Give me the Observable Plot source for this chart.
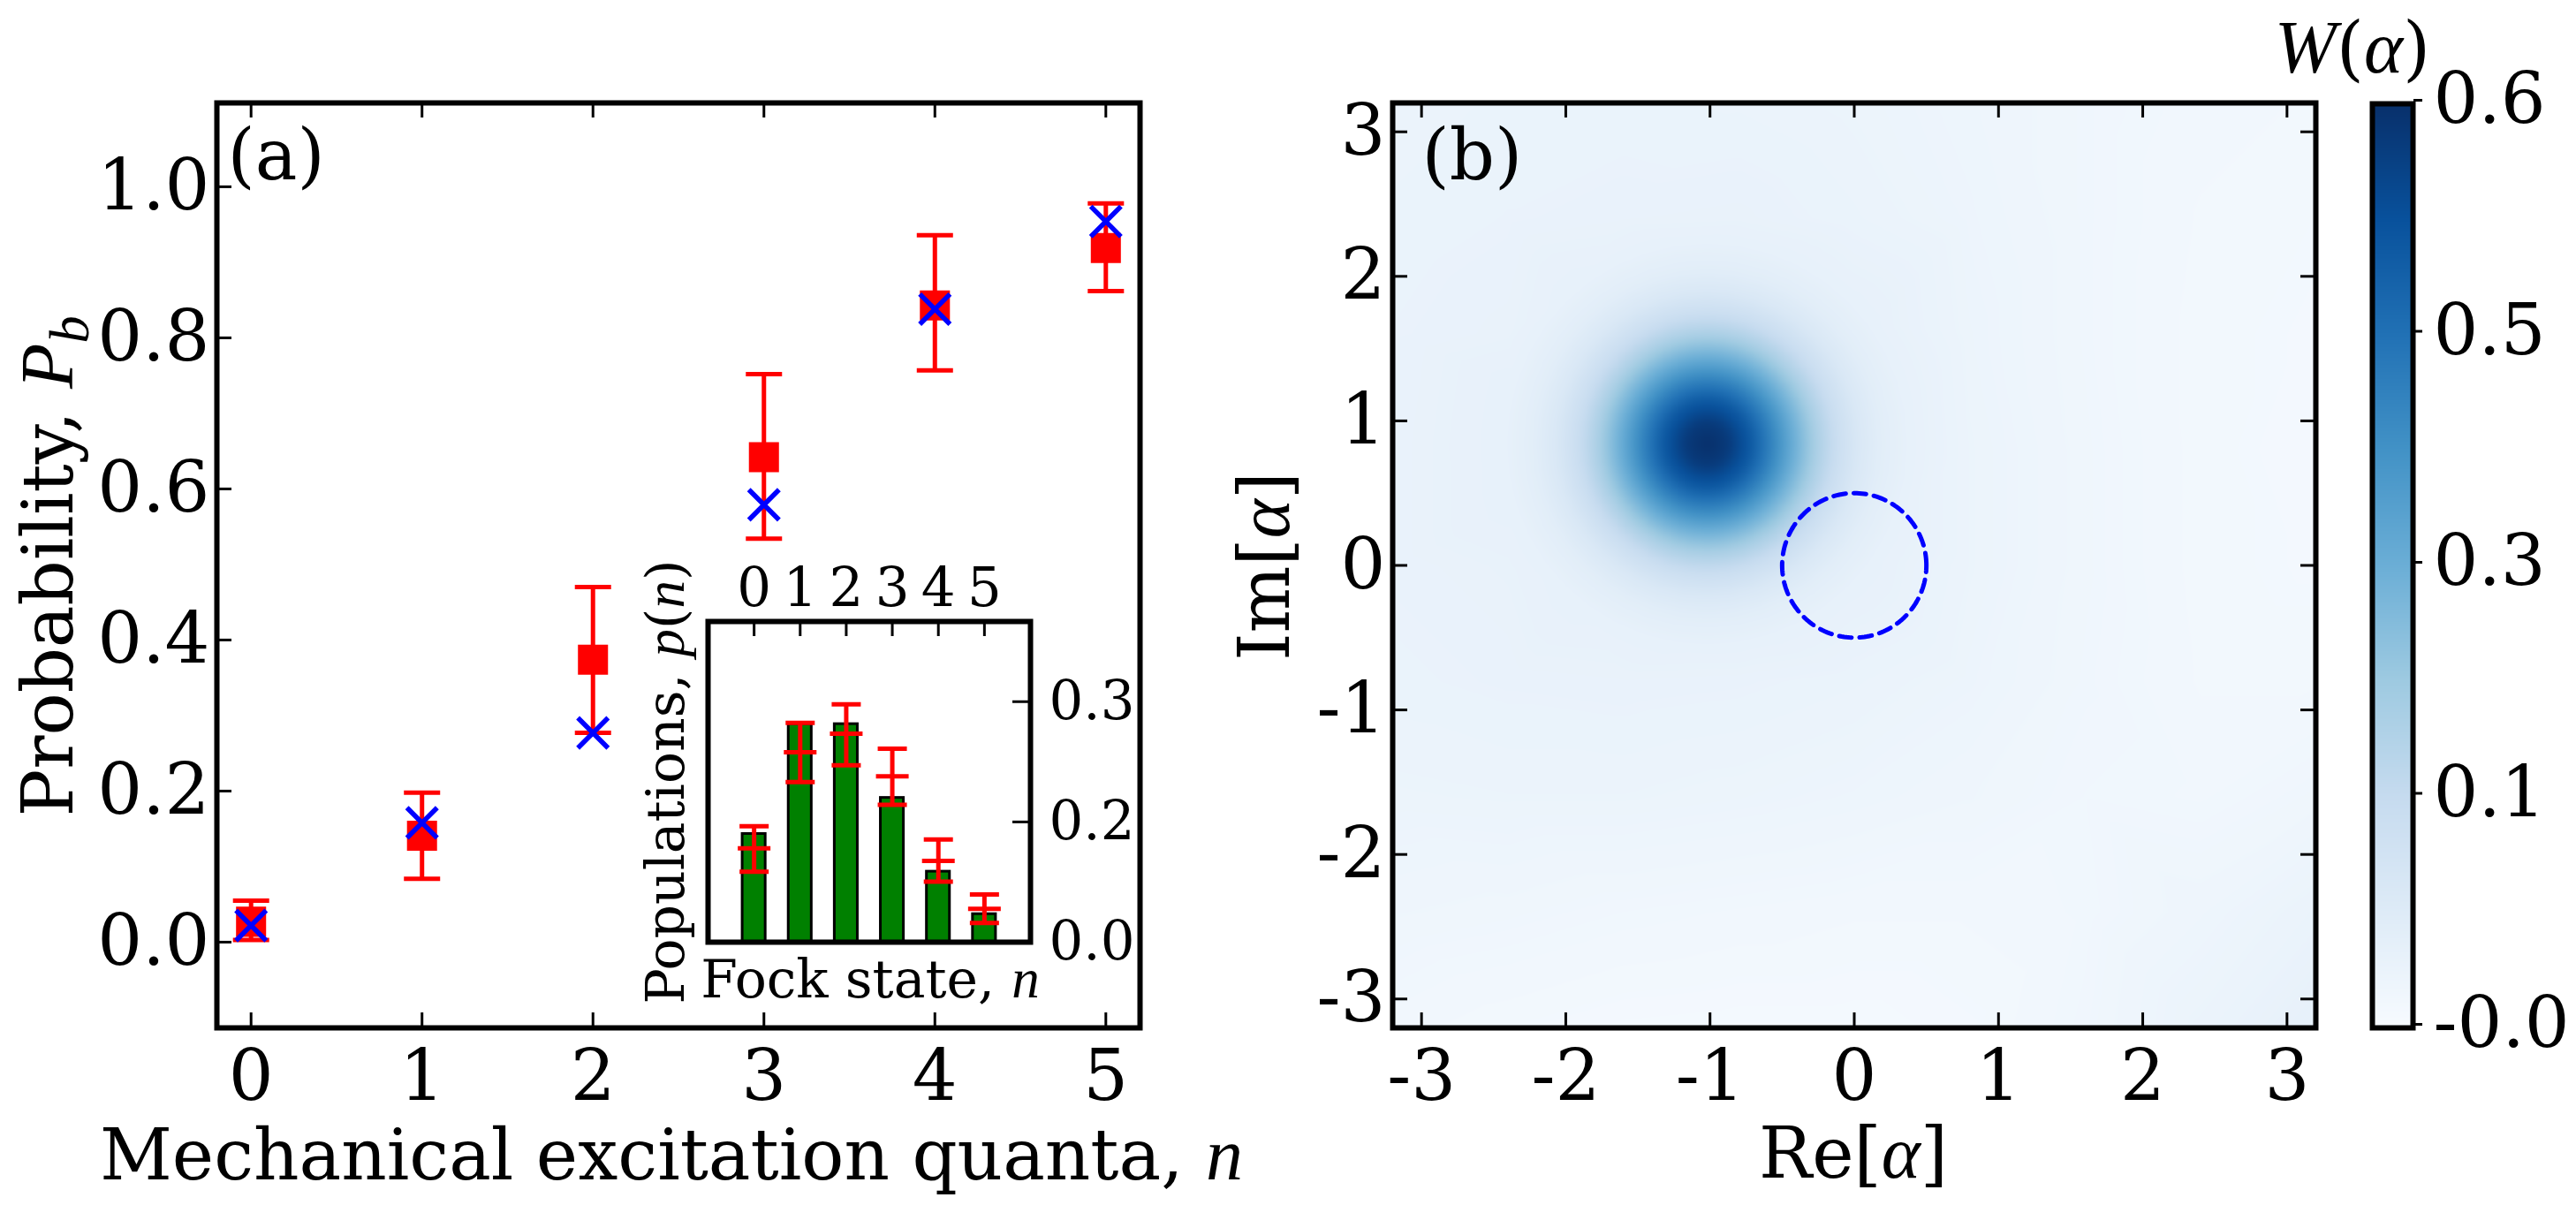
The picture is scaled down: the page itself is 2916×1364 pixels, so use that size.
<!DOCTYPE html>
<html>
<head>
<meta charset="utf-8">
<script src="https://cdn.jsdelivr.net/npm/d3@7"></script>
<script src="https://cdn.jsdelivr.net/npm/@observablehq/plot@0.6"></script>
<style>
  body { margin: 0; background: #fff; }
  #fig { position: relative; width: 2916px; height: 1364px; background: #fff; overflow: hidden; }
  #fig > svg { position: absolute; }
</style>
</head>
<body>
<div id="fig"></div>
<script>
// ---------------- DATA ----------------
// Panel (a): excitation probability vs mechanical quanta
const quanta = [0, 1, 2, 3, 4, 5];
const pbMeasured = [0.027, 0.141, 0.374, 0.642, 0.843, 0.919];
const pbErrLow = [0.003, 0.084, 0.277, 0.534, 0.757, 0.862];
const pbErrHigh = [0.055, 0.198, 0.470, 0.752, 0.936, 0.978];
const pbTheory = [0.022, 0.158, 0.277, 0.579, 0.838, 0.954];
const xTicksA = [0, 1, 2, 3, 4, 5];
const yTicksA = [0, 0.2, 0.4, 0.6, 0.8, 1.0];

// Inset: Fock-state populations
const fockStates = [0, 1, 2, 3, 4, 5];
const populations = [0.135, 0.272, 0.272, 0.180, 0.088, 0.035];
const popFit = [0.117, 0.237, 0.260, 0.207, 0.1015, 0.0415];
const popFitLow = [0.088, 0.1996, 0.2206, 0.1713, 0.0754, 0.0239];
const popFitHigh = [0.1445, 0.2735, 0.2967, 0.2412, 0.128, 0.0596];
const insetTicksX = [0, 1, 2, 3, 4, 5];
const insetTicksY = [0, 0.15, 0.3];
const insetTickLabelsY = ["0.0", "0.2", "0.3"];

// Panel (b): Wigner function samples
const reTicks = [-3, -2, -1, 0, 1, 2, 3];
const imTicks = [-3, -2, -1, 0, 1, 2, 3];
const wigGridX = [-3.2, -2.4, -1.6, -0.8, 0, 0.8, 1.6, 2.4, 3.2];
const wigGridY = [3.2, 2.4, 1.6, 0.8, 0, -0.8, -1.6, -2.4, -3.2];
const wigGridW = [
  [0.036, 0.038, 0.038, 0.037, 0.034, 0.029, 0.023, 0.018, 0.016],
  [0.038, 0.040, 0.042, 0.043, 0.038, 0.031, 0.023, 0.016, 0.014],
  [0.040, 0.043, 0.047, 0.048, 0.042, 0.033, 0.023, 0.015, 0.013],
  [0.041, 0.045, 0.050, 0.050, 0.044, 0.035, 0.024, 0.015, 0.012],
  [0.041, 0.044, 0.046, 0.046, 0.044, 0.035, 0.024, 0.015, 0.013],
  [0.039, 0.041, 0.042, 0.041, 0.038, 0.032, 0.023, 0.016, 0.016],
  [0.034, 0.035, 0.035, 0.033, 0.030, 0.026, 0.021, 0.019, 0.024],
  [0.026, 0.024, 0.021, 0.019, 0.017, 0.017, 0.020, 0.028, 0.038],
  [0.018, 0.014, 0.011, 0.010, 0.010, 0.013, 0.022, 0.036, 0.050]
];
const blobCenterRe = -1.02;
const blobCenterIm = 0.84;
const blobRadii = [0, 0.15, 0.3, 0.45, 0.6, 0.75, 0.9, 1.05, 1.2, 1.4];
const blobW = [0.600, 0.575, 0.505, 0.405, 0.300, 0.205, 0.135, 0.090, 0.064, 0.048];
const circleCenter = [0, 0];
const circleRadius = 0.5;

// Colour bar
const cbTicks = [0, 0.15, 0.3, 0.45, 0.6];
const cbTickLabels = ["-0.0", "0.1", "0.3", "0.5", "0.6"];
const bluesColors = ["#f7fbff", "#deebf7", "#c6dbef", "#9ecae1", "#6baed6", "#4292c6", "#2171b5", "#08519c", "#08306b"];
const wMin = 0, wMax = 0.6;

// ---------------- BUILD ----------------
const fig = document.getElementById("fig");
const FONT = "DejaVu Serif";
const MATH = "Liberation Serif";
const TICK = 17;

function place(svg, left, top) {
  svg.style.left = left + "px";
  svg.style.top = top + "px";
  fig.appendChild(svg);
}
const capSymbol = {
  draw(ctx, size) {
    const w = Math.sqrt(size / Math.PI);
    ctx.moveTo(-w, 0);
    ctx.lineTo(w, 0);
  }
};

// ---- Panel (a)
const tableA = quanta.map((n, i) => ({n, meas: pbMeasured[i], lo: pbErrLow[i], hi: pbErrHigh[i], th: pbTheory[i]}));
const FA = {left: 245, top: 116, right: 1290, bottom: 1163};
const WA = 1320, HA = 1364;
const fwA = FA.right - FA.left, fhA = FA.bottom - FA.top;
const plotA = Plot.plot({
  width: WA, height: HA,
  marginLeft: FA.left, marginTop: FA.top, marginRight: WA - FA.right, marginBottom: HA - FA.bottom,
  style: {background: "transparent", fontFamily: FONT, fontSize: "80px", color: "black", overflow: "visible"},
  x: {domain: [-0.2, 5.2], label: null},
  y: {domain: [-0.1135, 1.111], label: null},
  marks: [
    Plot.tickX(xTicksA, {x: d => d, insetTop: fhA - TICK, strokeWidth: 3, stroke: "black"}),
    Plot.tickX(xTicksA, {x: d => d, insetBottom: fhA - TICK, strokeWidth: 3, stroke: "black"}),
    Plot.tickY(yTicksA, {y: d => d, insetRight: fwA - TICK, strokeWidth: 3, stroke: "black"}),
    Plot.axisX(xTicksA, {anchor: "bottom", tickSize: 0, tickPadding: 25, tickFormat: d => String(d), label: null}),
    Plot.axisY(yTicksA, {anchor: "left", tickSize: 0, tickPadding: 8, tickFormat: d => d.toFixed(1), label: null}),
    Plot.ruleX(tableA, {x: "n", y1: "lo", y2: "hi", stroke: "#ff0000", strokeWidth: 5}),
    Plot.dot(tableA, {x: "n", y: "lo", symbol: capSymbol, r: 20.5, stroke: "#ff0000", strokeWidth: 5, fill: "none"}),
    Plot.dot(tableA, {x: "n", y: "hi", symbol: capSymbol, r: 20.5, stroke: "#ff0000", strokeWidth: 5, fill: "none"}),
    Plot.dot(tableA, {x: "n", y: "meas", symbol: "square", r: 19.2, fill: "#ff0000", stroke: "none"}),
    Plot.dot(tableA, {x: "n", y: "th", symbol: "times", r: 15.6, stroke: "#0000ff", strokeWidth: 5.5, fill: "none"}),
    Plot.text(["(a)"], {frameAnchor: "top-left", text: d => d, dx: 12, dy: 30, lineAnchor: "top", textAnchor: "start", fontSize: 80}),
    Plot.frame({stroke: "black", strokeWidth: 6})
  ]
});
place(plotA, 0, 0);

// ---- Inset
const tableI = fockStates.map((n, i) => ({n, p: populations[i], f: popFit[i], lo: popFitLow[i], hi: popFitHigh[i]}));
const FI = {left: 801, top: 703, right: 1166, bottom: 1066};
const LI = 700, TI = 600, WI = 600, HI = 560;
const fwI = FI.right - FI.left, fhI = FI.bottom - FI.top;
const barHalf = 0.25;
const plotI = Plot.plot({
  width: WI, height: HI,
  marginLeft: FI.left - LI, marginTop: FI.top - TI, marginRight: LI + WI - FI.right, marginBottom: TI + HI - FI.bottom,
  style: {background: "transparent", fontFamily: FONT, fontSize: "61px", color: "black", overflow: "visible"},
  x: {domain: [-1, 6], label: null},
  y: {domain: [0, 0.4], label: null},
  marks: [
    Plot.frame({fill: "white", stroke: "none"}),
    Plot.rectY(tableI, {x1: d => d.n - barHalf, x2: d => d.n + barHalf, y1: 0, y2: "p", fill: "#008000", stroke: "black", strokeWidth: 3}),
    Plot.ruleX(tableI, {x: "n", y1: "lo", y2: "hi", stroke: "#ff0000", strokeWidth: 5}),
    Plot.dot(tableI, {x: "n", y: "lo", symbol: capSymbol, r: 16.5, stroke: "#ff0000", strokeWidth: 5, fill: "none"}),
    Plot.dot(tableI, {x: "n", y: "hi", symbol: capSymbol, r: 16.5, stroke: "#ff0000", strokeWidth: 5, fill: "none"}),
    Plot.dot(tableI, {x: "n", y: "f", symbol: capSymbol, r: 18.5, stroke: "#ff0000", strokeWidth: 5, fill: "none"}),
    Plot.tickX(insetTicksX, {x: d => d, insetBottom: fhI - TICK, strokeWidth: 3, stroke: "black"}),
    Plot.tickY(insetTicksY, {y: d => d, insetLeft: fwI - 20, strokeWidth: 3, stroke: "black"}),
    Plot.axisX(insetTicksX, {anchor: "top", tickSize: 0, tickPadding: 18, tickFormat: d => String(d), label: null}),
    Plot.axisY(insetTicksY, {anchor: "right", tickSize: 0, tickPadding: 21, tickFormat: d => insetTickLabelsY[insetTicksY.indexOf(d)], label: null}),
    Plot.frame({stroke: "black", strokeWidth: 6})
  ]
});
place(plotI, LI, TI);

// ---- Panel (b)
const colorCfg = {
  type: "linear",
  domain: bluesColors.map((c, i) => wMin + (wMax - wMin) * i / (bluesColors.length - 1)),
  range: bluesColors,
  clamp: true
};
const wigPoints = [];
wigGridY.forEach((y, r) => wigGridX.forEach((x, c) => {
  if (Math.hypot(x - blobCenterRe, y - blobCenterIm) > 1.55) wigPoints.push({x, y, w: wigGridW[r][c]});
}));
blobRadii.forEach((rad, k) => {
  const count = rad === 0 ? 1 : 40;
  for (let j = 0; j < count; j++) {
    const a = 2 * Math.PI * j / count;
    wigPoints.push({x: blobCenterRe + rad * Math.cos(a), y: blobCenterIm + rad * Math.sin(a), w: blobW[k]});
  }
});
const circlePts = d3.range(0, 361, 2).map(a => ({
  x: circleCenter[0] + circleRadius * Math.cos(a * Math.PI / 180),
  y: circleCenter[1] + circleRadius * Math.sin(a * Math.PI / 180)
}));
const FB = {left: 1576, top: 116, right: 2621, bottom: 1163};
const LB = 1330, WB = 1320, HB = 1364;
const fwB = FB.right - FB.left, fhB = FB.bottom - FB.top;
const plotB = Plot.plot({
  width: WB, height: HB,
  marginLeft: FB.left - LB, marginTop: FB.top, marginRight: LB + WB - FB.right, marginBottom: HB - FB.bottom,
  style: {background: "transparent", fontFamily: FONT, fontSize: "80px", color: "black", overflow: "visible"},
  x: {domain: [-3.2, 3.2], label: null},
  y: {domain: [-3.2, 3.2], label: null},
  color: colorCfg,
  marks: [
    Plot.raster(wigPoints, {x: "x", y: "y", fill: "w", interpolate: "barycentric", x1: -3.2, x2: 3.2, y1: -3.2, y2: 3.2, blur: 4}),
    Plot.line(circlePts, {x: "x", y: "y", stroke: "#0000ff", strokeWidth: 5, strokeDasharray: "14,9"}),
    Plot.tickX(reTicks, {x: d => d, insetTop: fhB - TICK, strokeWidth: 3, stroke: "black"}),
    Plot.tickX(reTicks, {x: d => d, insetBottom: fhB - TICK, strokeWidth: 3, stroke: "black"}),
    Plot.tickY(imTicks, {y: d => d, insetRight: fwB - TICK, strokeWidth: 3, stroke: "black"}),
    Plot.tickY(imTicks, {y: d => d, insetLeft: fwB - TICK, strokeWidth: 3, stroke: "black"}),
    Plot.axisX(reTicks, {anchor: "bottom", tickSize: 0, tickPadding: 25, tickFormat: d => String(d), label: null}),
    Plot.axisY(imTicks, {anchor: "left", tickSize: 0, tickPadding: 8, tickFormat: d => String(d), label: null}),
    Plot.text(["(b)"], {frameAnchor: "top-left", text: d => d, dx: 33, dy: 30, lineAnchor: "top", textAnchor: "start", fontSize: 80}),
    Plot.frame({stroke: "black", strokeWidth: 6})
  ]
});
place(plotB, LB, 0);

// ---- Colour bar
const FC = {left: 2685, top: 117, right: 2731, bottom: 1163};
const LC = 2650, WC = 266, HC = 1364;
const plotC = Plot.plot({
  width: WC, height: HC,
  marginLeft: FC.left - LC, marginTop: FC.top, marginRight: LC + WC - FC.right, marginBottom: HC - FC.bottom,
  style: {background: "transparent", fontFamily: FONT, fontSize: "80px", color: "black", overflow: "visible"},
  x: {domain: [0, 1], axis: null},
  y: {domain: [wMin, wMax], label: null, axis: null},
  color: colorCfg,
  marks: [
    Plot.raster({fill: (x, y) => y, x1: 0, x2: 1, y1: wMin, y2: wMax}),
    Plot.axisY(cbTicks, {anchor: "right", tickSize: 10, tickPadding: 13, strokeWidth: 3, dy: -4, tickFormat: d => cbTickLabels[cbTicks.indexOf(d)], label: null}),
    Plot.frame({stroke: "black", strokeWidth: 6})
  ]
});
place(plotC, LC, 0);

// ---- Rich-text labels (math italics, subscripts)
const overlay = d3.create("svg")
  .attr("width", 2916).attr("height", 1364)
  .style("left", "0px").style("top", "0px").style("pointer-events", "none").style("overflow", "visible");
function richText(parts, {x, y, size, rotate = 0}) {
  const t = overlay.append("text")
    .attr("transform", `translate(${x},${y}) rotate(${rotate})`)
    .attr("text-anchor", "middle")
    .attr("font-family", FONT)
    .attr("font-size", size)
    .attr("fill", "black");
  for (const p of parts) {
    const ts = t.append("tspan").text(p.t);
    if (p.math) ts.attr("font-family", MATH).attr("font-style", "italic").attr("font-size", size * 1.05);
    if (p.sub) ts.attr("font-size", size * 0.78).attr("dy", size * 0.22);
  }
}
richText([{t: "Probability, "}, {t: "P", math: true}, {t: "b", math: true, sub: true}], {x: 82, y: 641, size: 80, rotate: -90});
richText([{t: "Mechanical excitation quanta, "}, {t: "n", math: true}], {x: 760, y: 1335, size: 80});
richText([{t: "Populations, "}, {t: "p", math: true}, {t: "("}, {t: "n", math: true}, {t: ")"}], {x: 774, y: 885, size: 60, rotate: -90});
richText([{t: "Fock state, "}, {t: "n", math: true}], {x: 985, y: 1129, size: 60});
richText([{t: "Re["}, {t: "α", math: true}, {t: "]"}], {x: 2098, y: 1333, size: 80});
richText([{t: "Im["}, {t: "α", math: true}, {t: "]"}], {x: 1459, y: 641, size: 80, rotate: -90});
richText([{t: "W", math: true}, {t: "("}, {t: "α", math: true}, {t: ")"}], {x: 2663, y: 82, size: 80});
fig.appendChild(overlay.node());
</script>
</body>
</html>
